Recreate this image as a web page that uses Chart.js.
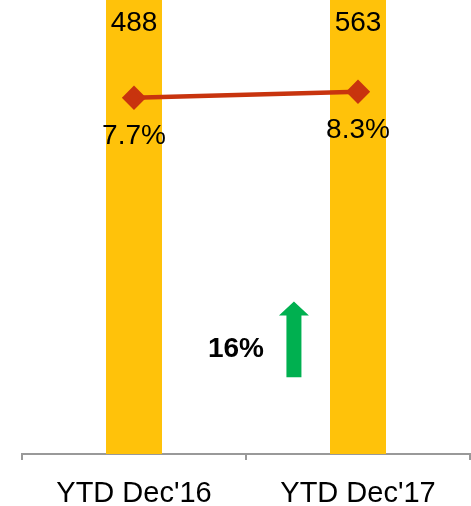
<!DOCTYPE html>
<html>
<head>
<meta charset="utf-8">
<script src="https://cdn.jsdelivr.net/npm/chart.js@4"></script>
<style>
  html, body { margin: 0; padding: 0; background: #fff; }
  #wrap { width: 471px; height: 506px; }
</style>
</head>
<body>
<div id="wrap"><canvas id="chart" width="471" height="506"></canvas></div>
<script>
// Chart data
const categories = ["YTD Dec'16", "YTD Dec'17"];
const volumes = [488, 563];
const margins = [7.7, 8.3];
const growthLabel = '16%';

const FONT = "'Liberation Sans', Arial, sans-serif";

// Draws value labels, the growth arrow and its text
const labelsPlugin = {
  id: 'labels',
  afterDatasetsDraw(chart) {
    const ctx = chart.ctx;
    const area = chart.chartArea;
    ctx.save();
    ctx.fillStyle = '#000';
    ctx.textAlign = 'center';
    ctx.textBaseline = 'middle';
    ctx.font = '28px ' + FONT;

    // bar values at top of each bar
    chart.getDatasetMeta(1).data.forEach((bar, i) => {
      ctx.fillText(String(volumes[i]), bar.x, area.top + 23);
    });

    // margin values below each point
    chart.getDatasetMeta(0).data.forEach((pt, i) => {
      ctx.fillText(margins[i].toFixed(1) + '%', pt.x, pt.y + 38);
    });

    // growth arrow
    const ax = area.left + (area.right - area.left) * 0.607;
    const tipY = area.top + (area.bottom - area.top) * 0.664;
    const baseY = area.top + (area.bottom - area.top) * 0.831;
    const headY = tipY + 14;
    ctx.fillStyle = '#00B050';
    ctx.beginPath();
    ctx.moveTo(ax, tipY);
    ctx.lineTo(ax + 15, headY);
    ctx.lineTo(ax + 7.5, headY);
    ctx.lineTo(ax + 7.5, baseY);
    ctx.lineTo(ax - 7.5, baseY);
    ctx.lineTo(ax - 7.5, headY);
    ctx.lineTo(ax - 15, headY);
    ctx.closePath();
    ctx.fill();

    ctx.fillStyle = '#000';
    ctx.font = 'bold 28px ' + FONT;
    ctx.fillText(growthLabel, ax - 58, (tipY + baseY) / 2 + 10);
    ctx.restore();
  }
};

new Chart(document.getElementById('chart'), {
  data: {
    labels: categories,
    datasets: [
      {
        type: 'line',
        data: margins,
        yAxisID: 'y1',
        order: 0,
        borderColor: '#C8340E',
        backgroundColor: '#C8340E',
        borderWidth: 4.5,
        pointStyle: 'rectRot',
        pointRadius: 9,
        pointHoverRadius: 9,
        tension: 0
      },
      {
        type: 'bar',
        data: volumes,
        yAxisID: 'y',
        order: 1,
        backgroundColor: '#FFC20A',
        categoryPercentage: 1,
        barPercentage: 0.25
      }
    ]
  },
  options: {
    responsive: false,
    animation: false,
    layout: { autoPadding: false, padding: { left: 22, right: 1, top: 0, bottom: -21 } },
    plugins: {
      legend: { display: false },
      tooltip: { enabled: false }
    },
    scales: {
      x: {
        offset: true,
        grid: {
          drawOnChartArea: false,
          drawTicks: true,
          tickLength: 6,
          color: '#999',
          lineWidth: 2
        },
        border: { display: true, color: '#999', width: 2 },
        ticks: {
          color: '#000',
          padding: 19,
          font: { family: FONT, size: 29, lineHeight: 1 }
        }
      },
      y: { display: false, min: 0, max: 450 },
      y1: { display: false, min: -28, max: 17.5 }
    }
  },
  plugins: [labelsPlugin]
});
</script>
</body>
</html>
